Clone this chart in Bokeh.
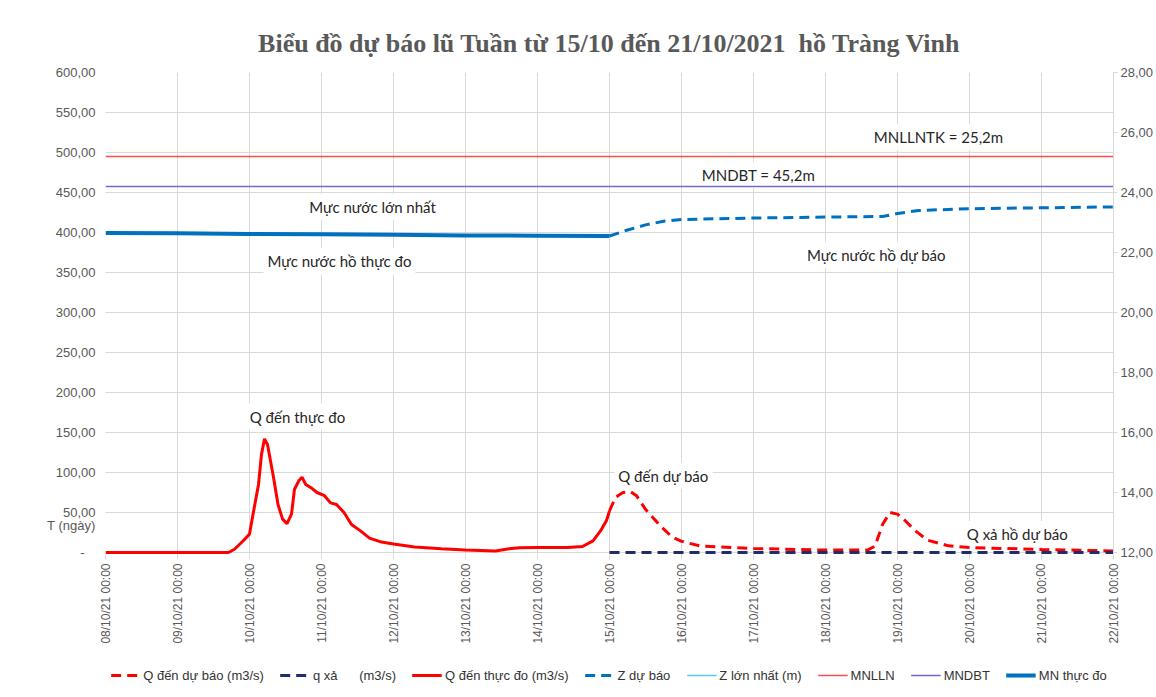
import pandas as pd
from bokeh.plotting import figure
from bokeh.layouts import column
from bokeh.models import (Range1d, LinearAxis, FixedTicker, CustomJSTickFormatter,
                          DatetimeTickFormatter, Legend, LegendItem, Label)
from bokeh.embed import file_html
from bokeh.resources import INLINE

# ---------------- data ----------------
title_text = "Biểu đồ dự báo lũ Tuần từ 15/10 đến 21/10/2021\u00a0 hồ Tràng Vinh"

day_ticks = ["2021-10-08", "2021-10-09", "2021-10-10", "2021-10-11", "2021-10-12",
             "2021-10-13", "2021-10-14", "2021-10-15", "2021-10-16", "2021-10-17",
             "2021-10-18", "2021-10-19", "2021-10-20", "2021-10-21", "2021-10-22"]

q_left_ticks = [0, 50, 100, 150, 200, 250, 300, 350, 400, 450, 500, 550, 600]
z_right_ticks = [12, 14, 16, 18, 20, 22, 24, 26, 28]
y_axis_note = "T (ngày)"

# Q đến thực đo (m3/s)
q_obs_time = ["2021-10-08 00:00", "2021-10-09 00:00", "2021-10-09 17:00", "2021-10-09 19:00",
              "2021-10-09 22:00", "2021-10-10 00:00", "2021-10-10 01:00", "2021-10-10 03:00",
              "2021-10-10 04:00", "2021-10-10 05:00", "2021-10-10 06:00", "2021-10-10 08:00",
              "2021-10-10 09:30", "2021-10-10 11:00", "2021-10-10 12:30", "2021-10-10 14:00",
              "2021-10-10 15:00", "2021-10-10 16:30", "2021-10-10 17:30", "2021-10-10 18:45",
              "2021-10-10 20:30", "2021-10-10 22:30", "2021-10-11 01:00", "2021-10-11 03:00",
              "2021-10-11 05:00", "2021-10-11 07:30", "2021-10-11 10:00", "2021-10-11 13:00",
              "2021-10-11 16:00", "2021-10-11 20:00", "2021-10-12 00:00", "2021-10-12 07:00",
              "2021-10-12 16:00", "2021-10-13 00:00", "2021-10-13 10:00", "2021-10-13 14:30",
              "2021-10-13 18:00", "2021-10-14 00:00", "2021-10-14 10:00", "2021-10-14 15:00",
              "2021-10-14 18:30", "2021-10-14 21:00", "2021-10-14 23:00", "2021-10-15 00:00"]
q_obs = [0, 0, 0, 4, 15, 23, 44, 85, 123, 142, 135, 94, 60, 42, 36, 48, 79, 90, 94, 85,
         81, 75, 71, 62, 60, 50, 35, 27, 18, 13, 10.5, 7, 4.6, 3, 2, 4.6, 5.8, 6.2, 6.2, 7.5,
         14.6, 27, 40, 52]

# Q đến dự báo (m3/s)
q_fc_time = ["2021-10-15 00:00", "2021-10-15 02:00", "2021-10-15 04:30", "2021-10-15 07:00",
             "2021-10-15 09:00", "2021-10-15 12:00", "2021-10-15 17:00", "2021-10-15 21:00",
             "2021-10-16 00:00", "2021-10-16 06:00", "2021-10-17 00:00", "2021-10-18 00:00",
             "2021-10-18 14:00", "2021-10-18 16:30", "2021-10-18 19:00", "2021-10-18 21:30",
             "2021-10-19 00:00", "2021-10-19 02:30", "2021-10-19 06:00", "2021-10-19 10:00",
             "2021-10-19 17:00", "2021-10-20 00:00", "2021-10-21 00:00", "2021-10-22 00:00"]
q_fc = [52, 69, 75, 76, 71, 54, 33, 19, 14, 8.3, 5, 3, 3, 8, 35, 50, 48, 40, 27, 15.4,
        8.3, 6.2, 3.7, 2]

# q xả (m3/s)
q_rel_time = ["2021-10-15 00:00", "2021-10-22 00:00"]
q_rel = [0, 0]

# Z dự báo (m)
z_fc_time = ["2021-10-15 00:00", "2021-10-15 06:00", "2021-10-15 12:00", "2021-10-15 18:00",
             "2021-10-16 00:00", "2021-10-17 00:00", "2021-10-18 00:00", "2021-10-18 19:00",
             "2021-10-19 00:00", "2021-10-19 07:00", "2021-10-20 00:00", "2021-10-21 00:00",
             "2021-10-22 00:00"]
z_fc = [22.55, 22.75, 22.92, 23.04, 23.10, 23.15, 23.18, 23.20, 23.30, 23.40, 23.46, 23.49, 23.52]

# Z lớn nhất (m): no values shown in the chart
z_max_time = ["2021-10-15 00:00"]
z_max = [float("nan")]

# MN thực đo (m)
mn_obs_time = ["2021-10-08 00:00", "2021-10-09 00:00", "2021-10-10 00:00", "2021-10-11 00:00",
               "2021-10-12 00:00", "2021-10-13 00:00", "2021-10-14 00:00", "2021-10-15 00:00"]
mn_obs = [22.65, 22.64, 22.62, 22.61, 22.59, 22.57, 22.56, 22.55]

# constant levels (m)
level_time = ["2021-10-08 00:00", "2021-10-22 00:00"]
mnlln = [25.2, 25.2]
mndbt = [24.2, 24.2]

legend_labels = ["Q đến dự báo (m3/s)", "q xả\u00a0\u00a0\u00a0\u00a0\u00a0\u00a0(m3/s)",
                 "Q đến thực đo (m3/s)", "Z dự báo", "Z lớn nhất (m)", "MNLLN", "MNDBT",
                 "MN thực đo"]


def t(s):
    return pd.to_datetime(s)


def ms(s):
    return pd.Timestamp(s).value / 1e6


# ---------------- styles ----------------
styles = [
    dict(line_color="#FF0000", line_width=3, line_dash="10 6"),  # Q đến dự báo
    dict(line_color="#1F2F6B", line_width=3, line_dash="10 6"),  # q xả
    dict(line_color="#FF0000", line_width=3),                    # Q đến thực đo
    dict(line_color="#0070C0", line_width=3, line_dash="10 6"),  # Z dự báo
    dict(line_color="#5BC8F5", line_width=1.5),                  # Z lớn nhất
    dict(line_color="#FF4B4B", line_width=1.5),                  # MNLLN
    dict(line_color="#7467C9", line_width=1.5),                  # MNDBT
    dict(line_color="#0070C0", line_width=4),                    # MN thực đo
]

# ---------------- main figure ----------------
pad = 2.5  # keeps lines lying on zero fully visible
p = figure(frame_width=1008, frame_height=482, x_axis_type="datetime",
           x_range=Range1d(t("2021-10-08"), t("2021-10-22")),
           y_range=Range1d(-pad, 600),
           output_backend="svg", toolbar_location=None,
           min_border_left=105, min_border_right=42, min_border_top=72, min_border_bottom=0)
p.outline_line_color = None
p.background_fill_color = "white"
p.border_fill_color = "white"

p.title.text = title_text
p.title.align = "center"
p.title.text_font = "Liberation Serif"
p.title.text_font_style = "bold"
p.title.text_font_size = "26px"
p.title.text_color = "#595959"
p.title.standoff = 30

p.extra_y_ranges = {"z": Range1d(12 - pad * 16 / 600, 28)}

# grid
x_ticker = FixedTicker(ticks=[ms(d) for d in day_ticks])
p.xaxis.ticker = x_ticker
p.xgrid.ticker = x_ticker
p.ygrid.ticker = FixedTicker(ticks=q_left_ticks)
for g in (p.xgrid, p.ygrid):
    g.grid_line_color = "#d9d9d9"
    g.grid_line_width = 1

# axes
fmt = "%d/%m/%y %H:%M"
p.xaxis.formatter = DatetimeTickFormatter(
    milliseconds=fmt, seconds=fmt, minsec=fmt, minutes=fmt, hourmin=fmt,
    hours=fmt, days=fmt, months=fmt, years=fmt)
p.xaxis.major_label_orientation = 1.5708
p.xaxis.major_label_text_font = "Liberation Sans"
p.xaxis.major_label_text_font_size = "12px"
p.xaxis.major_label_text_color = "#595959"
p.xaxis.axis_line_color = None
p.xaxis.major_tick_line_color = "#d9d9d9"
p.xaxis.major_tick_in = 0
p.xaxis.major_tick_out = 5
p.xaxis.minor_tick_line_color = None
p.xaxis.major_label_standoff = 4

note_pos = 34  # height of the "T (ngày)" note on the left axis
p.yaxis.ticker = FixedTicker(ticks=sorted(q_left_ticks + [note_pos]))
p.yaxis.formatter = CustomJSTickFormatter(
    args=dict(note=y_axis_note, note_pos=note_pos),
    code="""
    if (tick == note_pos) return note;
    if (tick == 0) return '-\\u00a0\\u00a0\\u00a0';
    return tick.toFixed(2).replace('.', ',');
    """)
p.yaxis.axis_line_color = None
p.yaxis.major_tick_line_color = None
p.yaxis.minor_tick_line_color = None
p.yaxis.major_label_text_font = "Liberation Sans"
p.yaxis.major_label_text_font_size = "13px"
p.yaxis.major_label_text_color = "#595959"
p.yaxis.major_label_standoff = 4

z_axis = LinearAxis(y_range_name="z", ticker=FixedTicker(ticks=z_right_ticks),
                    formatter=CustomJSTickFormatter(code="return tick.toFixed(2).replace('.', ',');"))
z_axis.axis_line_color = "#d9d9d9"
z_axis.major_tick_line_color = "#d9d9d9"
z_axis.major_tick_in = 0
z_axis.major_tick_out = 4
z_axis.minor_tick_line_color = None
z_axis.major_label_text_font = "Liberation Sans"
z_axis.major_label_text_font_size = "13px"
z_axis.major_label_text_color = "#595959"
z_axis.major_label_standoff = 3
p.add_layout(z_axis, "right")

# text labels (drawn under the lines, over the grid)
labels = [
    ("MNLLNTK = 25,2m", "2021-10-19 13:40", 519),
    ("MNDBT = 45,2m", "2021-10-17 01:40", 472),
    ("Mực nước lớn nhất", "2021-10-11 17:00", 432),
    ("Mực nước hồ thực đo", "2021-10-11 06:00", 364),
    ("Mực nước hồ dự báo", "2021-10-18 17:00", 372),
    ("Q đến thực đo", "2021-10-10 16:00", 170),
    ("Q đến dự báo", "2021-10-15 18:00", 96),
    ("Q xả hồ dự báo", "2021-10-20 16:00", 23),
]
for txt, xs, ys in labels:
    p.add_layout(Label(x=ms(xs), y=ys, text=txt, text_align="center", text_baseline="middle",
                       text_font="Lato", text_font_size="15px", text_color="#262626",
                       background_fill_color="white", padding=4, level="underlay"))

# series
r_qfc = p.line(x=t(q_fc_time), y=q_fc, **styles[0])
r_qrel = p.line(x=t(q_rel_time), y=q_rel, **styles[1])
r_qobs = p.line(x=t(q_obs_time), y=q_obs, **styles[2])
r_zfc = p.line(x=t(z_fc_time), y=z_fc, y_range_name="z", **styles[3])
r_zmax = p.line(x=t(z_max_time), y=z_max, y_range_name="z", **styles[4])
r_mnlln = p.line(x=t(level_time), y=mnlln, y_range_name="z", **styles[5])
r_mndbt = p.line(x=t(level_time), y=mndbt, y_range_name="z", **styles[6])
r_mnobs = p.line(x=t(mn_obs_time), y=mn_obs, y_range_name="z", **styles[7])

# ---------------- legend strip ----------------
total_w = 105 + 1008 + 42
pl = figure(width=total_w, height=50, x_range=Range1d(0, 1), y_range=Range1d(0, 1),
            x_axis_location=None, y_axis_location=None, toolbar_location=None,
            output_backend="svg", min_border=0)
pl.grid.visible = False
pl.outline_line_color = None
proxies = [pl.line(x=[float("nan")], y=[float("nan")], **st) for st in styles]
legend = Legend(items=[LegendItem(label=l, renderers=[r]) for l, r in zip(legend_labels, proxies)],
                orientation="horizontal", location="top_center")
legend.label_text_font = "Liberation Sans"
legend.label_text_font_size = "13px"
legend.label_text_color = "#333333"
legend.glyph_width = 30
legend.label_standoff = 3
legend.spacing = 16
legend.border_line_color = None
legend.background_fill_alpha = 0
legend.padding = 0
legend.margin = 19
pl.add_layout(legend)

layout = column(p, pl, spacing=0)
open("out.html", "w").write(file_html(layout, INLINE))
